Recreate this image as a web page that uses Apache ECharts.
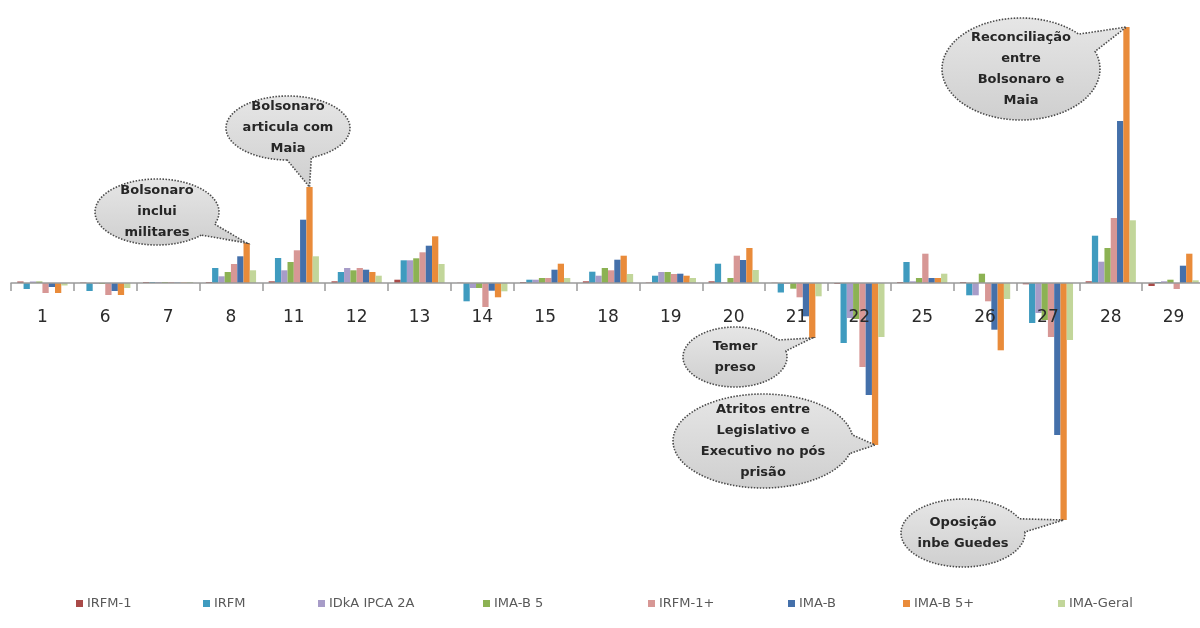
<!DOCTYPE html>
<html>
<head>
<meta charset="utf-8">
<script src="https://cdn.jsdelivr.net/npm/echarts@6/dist/echarts.min.js"></script>
<style>
  html, body { margin: 0; padding: 0; background: #ffffff; }
  #chart { width: 1200px; height: 628px; }
</style>
</head>
<body>
<div id="chart"></div>
<script>
// Trading days of the month
const categories = ['1', '6', '7', '8', '11', '12', '13', '14', '15', '18', '19', '20', '21', '22', '25', '26', '27', '28', '29'];

// Daily returns (%) per index
const irfm1     = [0.015, 0.005, 0.01, 0.01, 0.017, 0.017, 0.033, 0.003, 0.01, 0.017, 0.005, 0.017, 0.003, -0.01, 0.01, 0.01, -0.013, 0.017, -0.03];
const irfm      = [-0.06, -0.08, 0.01, 0.15, 0.25, 0.11, 0.227, -0.183, 0.033, 0.113, 0.073, 0.193, -0.095, -0.60, 0.21, -0.123, -0.40, 0.473, 0.01];
const idkaIpca2 = [0.015, -0.01, 0.01, 0.067, 0.127, 0.15, 0.227, -0.05, 0.033, 0.073, 0.11, 0.007, -0.01, -0.35, 0.017, -0.123, -0.30, 0.213, 0.017];
const imaB5     = [0.015, -0.01, 0.01, 0.11, 0.21, 0.127, 0.247, -0.05, 0.05, 0.15, 0.11, 0.05, -0.057, -0.36, 0.05, 0.093, -0.37, 0.35, 0.033];
const irfm1Plus = [-0.10, -0.12, 0.01, 0.19, 0.327, 0.15, 0.307, -0.24, 0.05, 0.127, 0.09, 0.273, -0.143, -0.84, 0.293, -0.183, -0.54, 0.65, -0.06];
const imaB      = [-0.04, -0.08, 0.005, 0.267, 0.633, 0.133, 0.373, -0.077, 0.133, 0.233, 0.093, 0.23, -0.333, -1.12, 0.05, -0.467, -1.52, 1.62, 0.173];
const imaB5Plus = [-0.10, -0.12, 0.005, 0.40, 0.96, 0.11, 0.467, -0.143, 0.193, 0.273, 0.073, 0.35, -0.55, -1.62, 0.05, -0.673, -2.37, 2.56, 0.293];
const imaGeral  = [-0.025, -0.05, 0.01, 0.127, 0.267, 0.073, 0.19, -0.083, 0.05, 0.09, 0.05, 0.13, -0.133, -0.54, 0.093, -0.16, -0.57, 0.627, 0.027];

const seriesNames = ['IRFM-1', 'IRFM', 'IDkA IPCA 2A', 'IMA-B 5', 'IRFM-1+', 'IMA-B', 'IMA-B 5+', 'IMA-Geral'];
const seriesValues = [irfm1, irfm, idkaIpca2, imaB5, irfm1Plus, imaB, imaB5Plus, imaGeral];
const seriesColors = ['#a94a48', '#3f9bbf', '#a79cc8', '#8cb253', '#d79795', '#4470aa', '#e98b3a', '#c2d69a'];

// Event annotations: text, series, day, and bubble placement
const calloutTexts = [
  'Bolsonaro\ninclui\nmilitares',
  'Bolsonaro\narticula com\nMaia',
  'Temer\npreso',
  'Atritos entre\nLegislativo e\nExecutivo no pós\nprisão',
  'Reconciliação\nentre\nBolsonaro e\nMaia',
  'Oposição\ninbe Guedes'
];
const calloutDays = ['8', '11', '21', '22', '28', '27'];
const calloutSeries = 'IMA-B 5+';
const calloutBoxes = [
  { cx: 157, cy: 212, rx: 62, ry: 33 },
  { cx: 288, cy: 128, rx: 62, ry: 32 },
  { cx: 735, cy: 357, rx: 52, ry: 30 },
  { cx: 763, cy: 441, rx: 90, ry: 47 },
  { cx: 1021, cy: 69, rx: 79, ry: 51 },
  { cx: 963, cy: 533, rx: 62, ry: 34 }
];

// Legend entry positions along the bottom
const legendLeft = [76, 203, 318, 483, 648, 788, 903, 1058];

// Plot area and value range; day labels sit just below the zero line
const gridTop = 23, gridBottomGap = 65;
const yMin = -2.8, yMax = 2.6;
const plotHeight = 628 - gridTop - gridBottomGap;
const zeroDepth = plotHeight * (0 - yMin) / (yMax - yMin);
const labelGap = 26;

const chart = echarts.init(document.getElementById('chart'), null, { renderer: 'canvas' });

const option = {
  backgroundColor: '#ffffff',
  animation: false,
  textStyle: { fontFamily: '"DejaVu Sans", sans-serif' },
  grid: { left: 11, right: -5, top: gridTop, bottom: gridBottomGap, containLabel: false, outerBoundsMode: 'none' },
  legend: seriesNames.map((name, i) => ({
    data: [name],
    left: legendLeft[i],
    top: 597,
    padding: 0,
    icon: 'rect',
    itemWidth: 7,
    itemHeight: 7,
    selectedMode: false,
    textStyle: { fontSize: 13, color: '#595959', fontFamily: '"DejaVu Sans", sans-serif', padding: [0, 0, 0, -1] }
  })),
  xAxis: {
    type: 'category',
    data: categories,
    z: 5,
    axisLine: { onZero: true, lineStyle: { color: '#9a9a9a', width: 1.5 } },
    axisTick: { show: true, length: 8, lineStyle: { color: '#9a9a9a', width: 1.5 } },
    axisLabel: {
      interval: 0,
      margin: labelGap - zeroDepth,
      hideOverlap: false,
      fontSize: 17,
      color: '#2b2b2b',
      fontFamily: '"DejaVu Sans", sans-serif'
    },
    splitLine: { show: false }
  },
  yAxis: {
    type: 'value',
    min: yMin,
    max: yMax,
    show: false,
    splitLine: { show: false }
  },
  series: seriesNames.map((name, i) => ({
    name: name,
    type: 'bar',
    data: seriesValues[i],
    barGap: '0%',
    barCategoryGap: '20%',
    itemStyle: { color: seriesColors[i] },
    emphasis: { disabled: true }
  }))
};

chart.setOption(option);

// Oval callout outline: ellipse with a wedge pointing at (tx, ty)
function calloutPoints(box, tx, ty) {
  const t = Math.atan2((ty - box.cy) / box.ry, (tx - box.cx) / box.rx);
  const d = 0.2;
  const pts = [];
  const steps = 140;
  for (let k = 0; k <= steps; k++) {
    const a = t + d + (2 * Math.PI - 2 * d) * k / steps;
    pts.push([box.cx + box.rx * Math.cos(a), box.cy + box.ry * Math.sin(a)]);
  }
  pts.push([tx, ty]);
  return pts;
}

function barTip(seriesIndex, dataIndex) {
  const model = chart.getModel();
  const layout = model.getSeriesByIndex(seriesIndex).getData().getItemLayout(dataIndex);
  return [layout.x + layout.width / 2, layout.y + layout.height];
}

const sIdx = seriesNames.indexOf(calloutSeries);
const graphics = [];
calloutTexts.forEach((txt, i) => {
  const box = calloutBoxes[i];
  const tip = barTip(sIdx, categories.indexOf(calloutDays[i]));
  graphics.push({
    type: 'polygon',
    z: 20,
    shape: { points: calloutPoints(box, tip[0], tip[1]) },
    style: {
      fill: {
        type: 'linear', x: 0, y: 0, x2: 0, y2: 1,
        colorStops: [{ offset: 0, color: '#e6e6e6' }, { offset: 1, color: '#cfcfcf' }]
      },
      stroke: '#4a4a4a',
      lineWidth: 1.6,
      lineDash: [1.5, 1.5]
    }
  });
  graphics.push({
    type: 'text',
    z: 21,
    x: box.cx,
    y: box.cy,
    style: {
      text: txt,
      fontSize: 13,
      fontWeight: 'bold',
      fontFamily: '"DejaVu Sans", sans-serif',
      fill: '#262626',
      lineHeight: 21,
      align: 'center',
      verticalAlign: 'middle'
    }
  });
});

chart.setOption({ graphic: graphics });
</script>
</body>
</html>
